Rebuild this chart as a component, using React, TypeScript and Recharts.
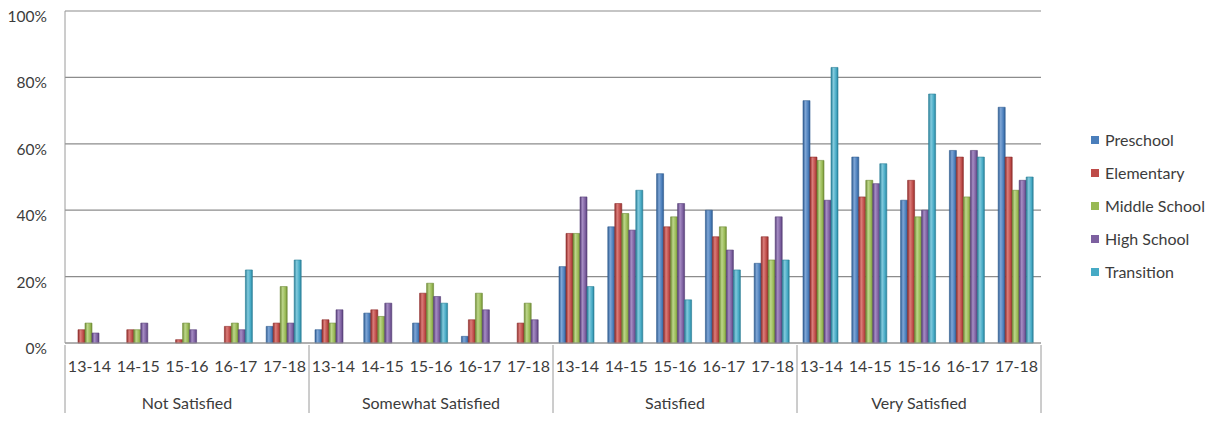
import React from 'react';
import { BarChart, Bar, XAxis, YAxis, CartesianGrid } from 'recharts';

const YEARS = ['13-14', '14-15', '15-16', '16-17', '17-18'];
const GROUPS = ['Not Satisfied', 'Somewhat Satisfied', 'Satisfied', 'Very Satisfied'];
const Y_TICKS = [0, 20, 40, 60, 80, 100];

// one value per (group, year), in group order
const preschool = [0, 0, 0, 0, 5, 4, 9, 6, 2, 0, 23, 35, 51, 40, 24, 73, 56, 43, 58, 71];
const elementary = [4, 4, 1, 5, 6, 7, 10, 15, 7, 6, 33, 42, 35, 32, 32, 56, 44, 49, 56, 56];
const middleSchool = [6, 4, 6, 6, 17, 6, 8, 18, 15, 12, 33, 39, 38, 35, 25, 55, 49, 38, 44, 46];
const highSchool = [3, 6, 4, 4, 6, 10, 12, 14, 10, 7, 44, 34, 42, 28, 38, 43, 48, 40, 58, 49];
const transition = [0, 0, 0, 22, 25, 0, 0, 12, 0, 0, 17, 46, 13, 22, 25, 83, 54, 75, 56, 50];

const SERIES = [
    { key: 'preschool', name: 'Preschool', color: '#4A7EBB', dark: '#2F5C91', light: '#7FA6D6' },
    { key: 'elementary', name: 'Elementary', color: '#BE4B48', dark: '#8F2E2C', light: '#DB7D7A' },
    { key: 'middleSchool', name: 'Middle School', color: '#98B954', dark: '#6F8C36', light: '#BDD68A' },
    { key: 'highSchool', name: 'High School', color: '#7D60A0', dark: '#573F78', light: '#A68DC4' },
    { key: 'transition', name: 'Transition', color: '#46AAC5', dark: '#2A7F97', light: '#82CADD' },
];

const data = GROUPS.flatMap((group, gi) =>
    YEARS.map((year, yi) => {
        const i = gi * YEARS.length + yi;
        return {
            group,
            year,
            preschool: preschool[i],
            elementary: elementary[i],
            middleSchool: middleSchool[i],
            highSchool: highSchool[i],
            transition: transition[i],
        };
    })
);

const FONT = 'Lato, "Open Sans", sans-serif';
const TEXT = '#3c3c3c';
const PLOT_LEFT = 65;
const PLOT_RIGHT = 1041;
const PLOT_BOTTOM = 343;
const CAT_W = (PLOT_RIGHT - PLOT_LEFT) / data.length;

const YearTick = (props: any) => {
    const { x, y, payload, index } = props;
    const first = index % YEARS.length === 0;
    const last = index === data.length - 1;
    return (
        <g>
            {first && <line x1={x - CAT_W / 2} x2={x - CAT_W / 2} y1={PLOT_BOTTOM + 2} y2={413} stroke="#9a9a9a" />}
            {last && <line x1={x + CAT_W / 2} x2={x + CAT_W / 2} y1={PLOT_BOTTOM + 2} y2={413} stroke="#9a9a9a" />}
            <text x={x} y={y + 21} textAnchor="middle" fontFamily={FONT} fontSize={16} fill={TEXT}>
                {payload.value}
            </text>
        </g>
    );
};

const GroupTick = (props: any) => {
    const { x, y, payload } = props;
    return (
        <text x={x} y={y + 18} textAnchor="middle" fontFamily={FONT} fontSize={16} fill={TEXT}>
            {payload.value}
        </text>
    );
};

const PctTick = (props: any) => {
    const { x, y, payload } = props;
    return (
        <text x={x} y={y + 11} textAnchor="end" fontFamily={FONT} fontSize={15.5} fill={TEXT}>
            {payload.value}%
        </text>
    );
};

export default function App() {
    return (
        <div style={{ position: 'absolute', left: 0, top: 0, width: 1222, height: 424, background: '#fff' }}>
            <BarChart
                width={1222}
                height={424}
                data={data}
                margin={{ top: 11, right: 1222 - PLOT_RIGHT, left: 8, bottom: 0 }}
                barCategoryGap={6}
                barGap={0}
            >
                <defs>
                    {SERIES.map(s => (
                        <linearGradient key={s.key} id={`grad-${s.key}`} x1="0" y1="0" x2="1" y2="0">
                            <stop offset="0%" stopColor={s.dark} />
                            <stop offset="35%" stopColor={s.light} />
                            <stop offset="75%" stopColor={s.color} />
                            <stop offset="100%" stopColor={s.dark} />
                        </linearGradient>
                    ))}
                </defs>
                <CartesianGrid vertical={false} stroke="#8c8c8c" strokeWidth={1.2} />
                <XAxis
                    dataKey="year"
                    height={40}
                    tickLine={false}
                    axisLine={{ stroke: '#9a9a9a' }}
                    tickSize={0}
                    tickMargin={8}
                    interval={0}
                    tick={<YearTick />}
                />
                <XAxis
                    xAxisId="group"
                    dataKey="group"
                    allowDuplicatedCategory={false}
                    height={41}
                    tickLine={false}
                    axisLine={false}
                    tickSize={0}
                    tickMargin={8}
                    interval={0}
                    tick={<GroupTick />}
                />
                <YAxis
                    width={57}
                    domain={[0, 100]}
                    ticks={Y_TICKS}
                    tickLine={false}
                    axisLine={{ stroke: '#9a9a9a' }}
                    tickSize={0}
                    tickMargin={18}
                    tick={<PctTick />}
                />
                {SERIES.map(s => (
                    <Bar
                        key={s.key}
                        dataKey={s.key}
                        name={s.name}
                        fill={`url(#grad-${s.key})`}
                        stroke={s.dark}
                        strokeWidth={0.6}
                        isAnimationActive={false}
                    />
                ))}
            </BarChart>
            <div style={{ position: 'absolute', left: 1091, top: 123, fontFamily: FONT, fontSize: 16, color: TEXT }}>
                {SERIES.map(s => (
                    <div key={s.key} style={{ height: 33, display: 'flex', alignItems: 'center' }}>
                        <span style={{ width: 8, height: 8, background: s.color, marginRight: 6, display: 'inline-block' }} />
                        {s.name}
                    </div>
                ))}
            </div>
        </div>
    );
}
